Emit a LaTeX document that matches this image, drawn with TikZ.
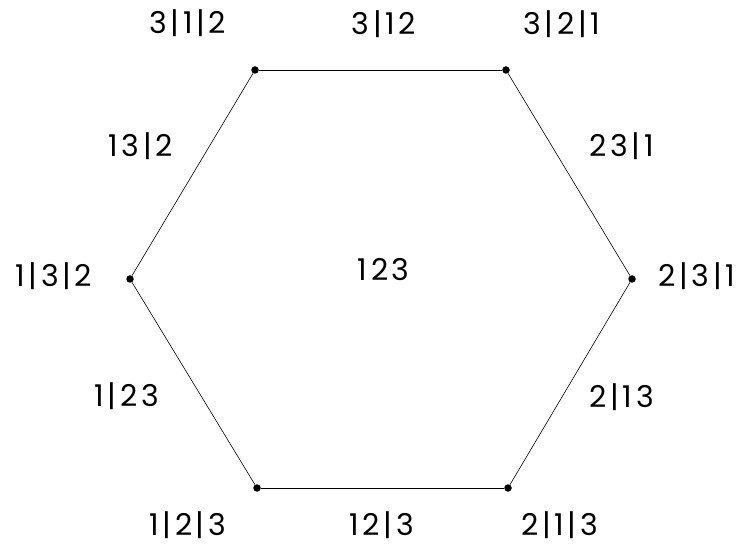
\documentclass[tikz,border=0pt]{standalone}
\usepackage{fontspec}
\setmainfont[LetterSpace=12]{Poppins}
\usetikzlibrary{positioning}
\tikzset{
    vertex/.style   = {circle, fill=black, inner sep=0pt, minimum size=7.5pt},
    edgeline/.style = {draw=black, line width=0.6pt},
    partlabel/.style = {font=\fontsize{30}{34}\selectfont, inner sep=0pt,
                        anchor=base, xshift=1.8pt}
}
\begin{document}
\begin{tikzpicture}[x=1pt, y=-1pt]
\useasboundingbox (0,0) rectangle (740,548);
% vertices of the hexagon
\node[vertex] (v312) at (255,70)  {};
\node[vertex] (v321) at (506,70)  {};
\node[vertex] (v231) at (632,279) {};
\node[vertex] (v213) at (508,488) {};
\node[vertex] (v123) at (257,488) {};
\node[vertex] (v132) at (130,279) {};
\foreach \a/\b in {v312/v321,v321/v231,v231/v213,v213/v123,v123/v132,v132/v312}
   \draw[edgeline] (\a) -- (\b);
% labels (base line of the digits)
\node[partlabel] (l312) at (186,34)  {3|1|2};
\node[partlabel] (l3_12) at (382,35) {3|12};
\node[partlabel] (l321) at (560,35)  {3|2|1};
\node[partlabel] (l13_2) at (139,157) {13|2};
\node[partlabel] (l23_1) at (620,157) {23|1};
\node[partlabel] (l132) at (52,287)  {1|3|2};
\node[partlabel] (lall) at (382,281) {123};
\node[partlabel] (l231) at (695,287) {2|3|1};
\node[partlabel] (l1_23) at (125,407) {1|23};
\node[partlabel] (l2_13) at (620,408) {2|13};
\node[partlabel] (l123) at (186,535) {1|2|3};
\node[partlabel] (l12_3) at (380,535) {12|3};
\node[partlabel] (l213) at (558,535) {2|1|3};
\end{tikzpicture}
\end{document}
